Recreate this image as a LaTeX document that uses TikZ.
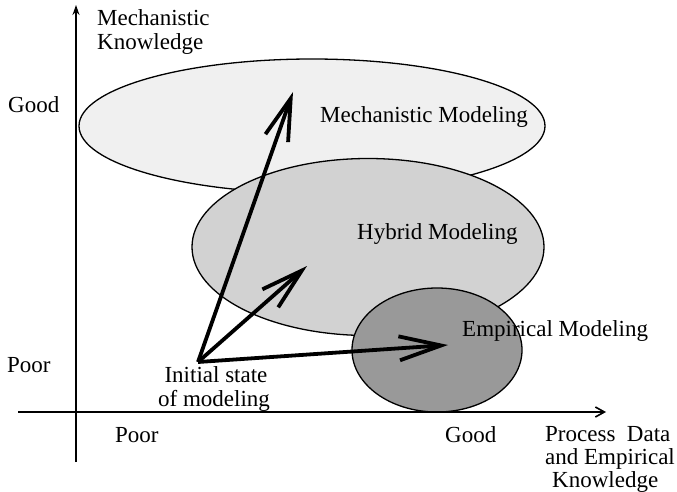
\documentclass[tikz,border=0pt]{standalone}
\usepackage{fontspec}
\setmainfont{Liberation Serif}
\usetikzlibrary{arrows.meta,shapes.geometric}
\definecolor{mechfill}{RGB}{240,240,240}
\definecolor{hybfill}{RGB}{210,210,210}
\definecolor{empfill}{RGB}{153,153,153}
\begin{document}
\begin{tikzpicture}[x=1pt,y=-1pt,
  lbl/.style={font=\fontsize{23}{25}\selectfont, inner sep=0pt, anchor=base west},
  region/.style={ellipse, draw=black, line width=1.3pt, inner sep=0pt},
  trend/.style={line width=3.8pt, -{Straight Barb[length=42pt,width=24pt]}},
  axisline/.style={line width=1.6pt}]
\useasboundingbox (0,0) rectangle (677,492);
% regions
\node[region, fill=mechfill, minimum width=466pt, minimum height=134pt] (mech) at (312,126) {};
\node[region, fill=hybfill, minimum width=352pt, minimum height=177pt] (hyb) at (368,247) {};
\node[region, fill=empfill, minimum width=170pt, minimum height=124pt] (emp) at (437,350) {};
% axes
\coordinate (vbot) at (76,462);
\coordinate (vtop) at (76,5);
\coordinate (hleft) at (18,412);
\coordinate (hright) at (606,412);
\draw[axisline, line width=2pt, -{Stealth[length=10pt,width=7pt]}] (vbot) -- (vtop);
\draw[axisline, -{Straight Barb[length=9pt,width=10pt]}] (hleft) -- (hright);
% arrows
\coordinate (init) at (198,362);
\coordinate (tipM) at (293,92);
\coordinate (tipH) at (307,266);
\coordinate (tipE) at (448,345);
\draw[trend] (init) -- (tipM);
\draw[trend] (init) -- (tipH);
\draw[trend] (init) -- (tipE);
% labels
\node[lbl] (ylab1) at (97,26) {Mechanistic};
\node[lbl] (ylab2) at (97,50) {Knowledge};
\node[lbl] (ygood) at (8,113) {Good};
\node[lbl] (ypoor) at (7,372) {Poor};
\node[lbl] (xpoor) at (115,442) {Poor};
\node[lbl] (xgood) at (445,442) {Good};
\node[lbl] (xlab1) at (545,441) {Process\ \ Data};
\node[lbl] (xlab2) at (545,464) {and Empirical};
\node[lbl] (xlab3) at (552,487) {Knowledge};
\node[lbl] (mlab) at (320,123) {Mechanistic Modeling};
\node[lbl] (hlab) at (357,239) {Hybrid Modeling};
\node[lbl] (elab) at (462,336) {Empirical Modeling};
\node[lbl, anchor=base] (ilab1) at (216,382) {Initial state};
\node[lbl, anchor=base] (ilab2) at (214,406) {of modeling};
\end{tikzpicture}
\end{document}
